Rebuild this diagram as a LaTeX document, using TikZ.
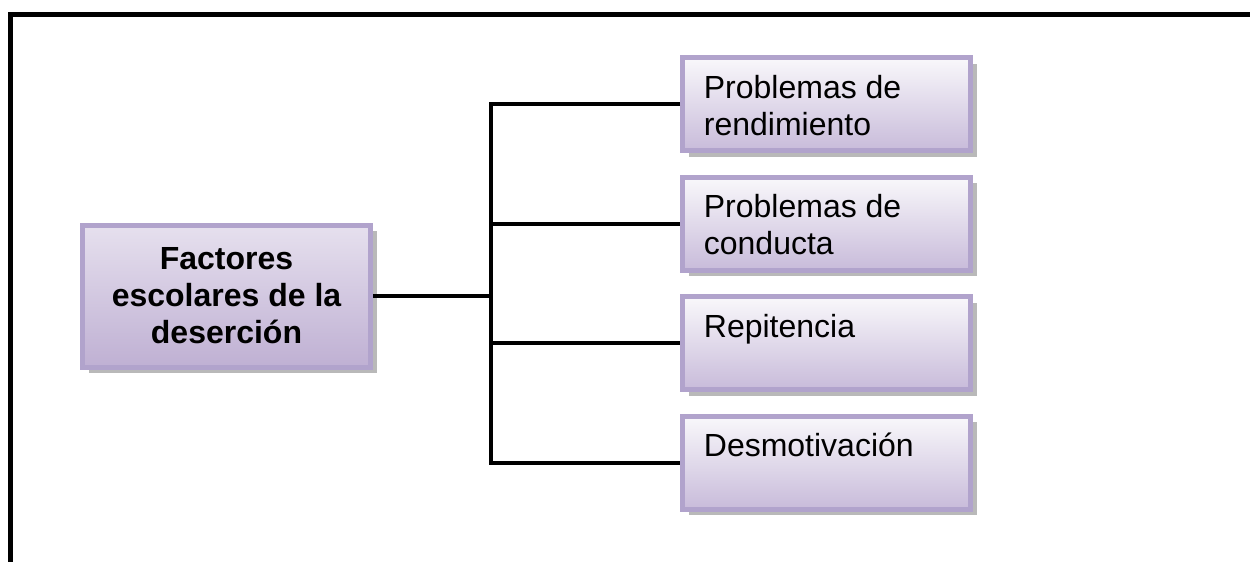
\documentclass[tikz,border=0pt]{standalone}
\usepackage{fontspec}
\setmainfont{Liberation Sans}
\usetikzlibrary{positioning,shadows}
\definecolor{borde}{HTML}{B1A3CC}
\definecolor{claro}{HTML}{F9F8FB}
\definecolor{oscuro}{HTML}{C8BBDA}
\definecolor{claroFac}{HTML}{E6E0EE}
\definecolor{oscuroFac}{HTML}{BFB0D3}
\tikzset{
    caja/.style={draw=borde, line width=2.5pt, top color=claro, bottom color=oscuro,
        minimum width=144pt, minimum height=46.5pt, inner sep=0pt,
        drop shadow={shadow xshift=3pt, shadow yshift=-3pt, fill=gray!55, opacity=1}},
    cajafac/.style={caja, top color=claroFac, bottom color=oscuroFac, minimum height=71pt,
        align=center, font=\bfseries\fontsize{16}{18.5}\selectfont},
    textocaja/.style={anchor=north west, inner sep=0pt, align=left,
        font=\fontsize{16}{18.5}\selectfont, xshift=11.75pt, yshift=-8.4pt},
    rama/.style={line width=2pt}
}
\begin{document}
\begin{tikzpicture}[x=0.5pt,y=-0.5pt]
    \useasboundingbox (0,0) rectangle (1250,562);
    % Frame
    \draw [line width=2.5pt] (10.5,562) -- (10.5,14) -- (1250,14);
    % Boxes
    \node [cajafac] (fac) at (226.5,296) {Factores\\escolares de la\\deserción};
    \foreach \y/\name in {104/b1, 223.5/b2, 343/b3, 462.5/b4} {
        \node [caja] (\name) at (826.5,\y) {};
    }
    % Texts
    \node [textocaja] (t1) at (b1.north west) {\strut Problemas de\\rendimiento};
    \node [textocaja] (t2) at (b2.north west) {\strut Problemas de\\conducta};
    \node [textocaja] (t3) at (b3.north west) {\strut Repitencia};
    \node [textocaja] (t4) at (b4.north west) {\strut Desmotivación};
    % Connectors
    \coordinate (tronco) at (490.5,296);
    \draw [rama] (fac.east) -- (fac.east -| tronco);
    \draw [rama] (b1.west) -| (b4.west -| tronco) -- (b4.west);
    \foreach \name in {b2, b3} {
        \draw [rama] (\name.west -| tronco) -- (\name.west);
    }
\end{tikzpicture}
\end{document}
